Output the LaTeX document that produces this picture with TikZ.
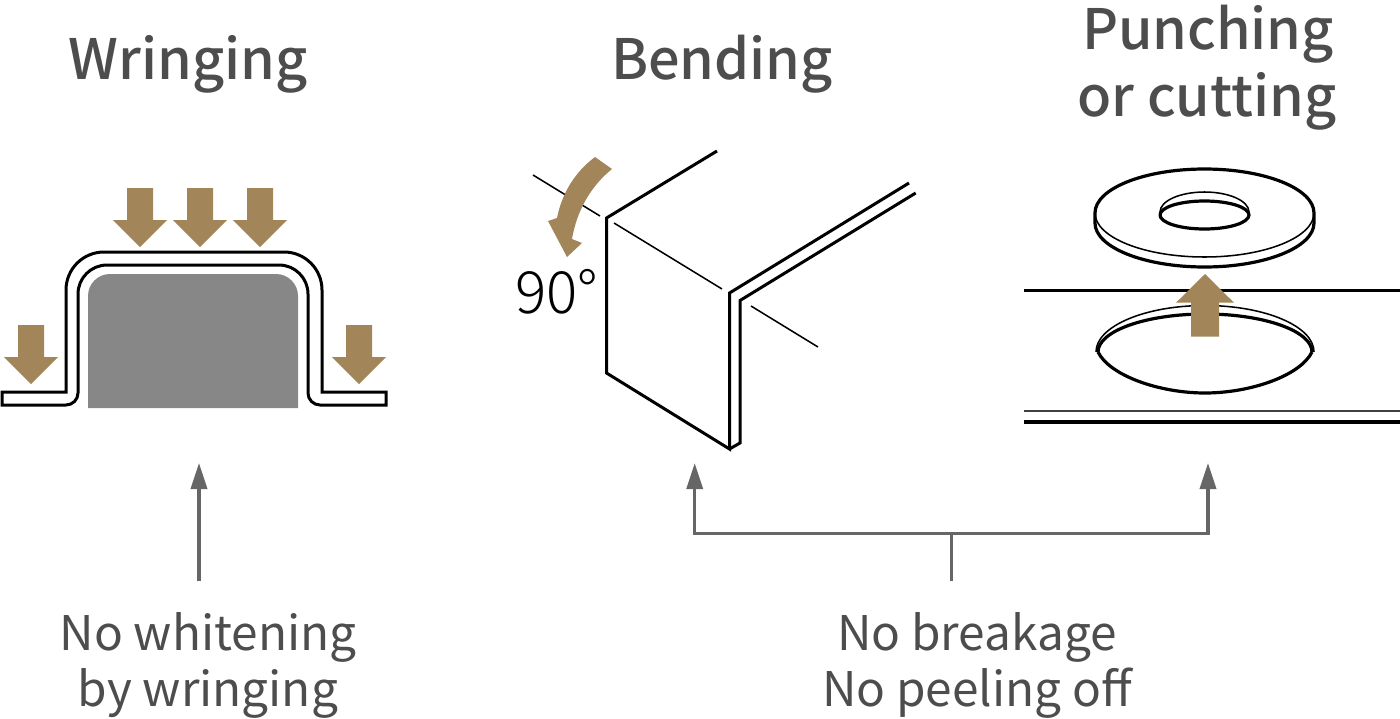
\documentclass[tikz,border=0pt]{standalone}
\usepackage{fontspec}
\setmainfont{Noto Sans CJK JP}
\newfontfamily\lightfont{Noto Sans CJK JP Light}
\newfontfamily\mediumfont{Noto Sans CJK JP Medium}
\usetikzlibrary{arrows.meta}
\definecolor{brownarrow}{HTML}{A28559}
\definecolor{txtgrey}{HTML}{4D4D4D}
\definecolor{conngrey}{HTML}{666666}
\definecolor{blockgrey}{HTML}{878787}
\tikzset{
 thick line/.style={draw=black,line width=2.25pt,line join=miter},
 heavy line/.style={draw=black,line width=2.4pt},
 thin line/.style={draw=black,line width=1.15pt},
 brown fill/.style={fill=brownarrow,draw=none},
 conn/.style={draw=conngrey,line width=2.6pt},
 connarrow/.style={conn,-{Triangle[length=19.5pt,width=12pt]}},
 title/.style={text=txtgrey,font=\mediumfont\fontsize{41.8}{46}\selectfont,anchor=base,inner sep=0pt},
 label/.style={text=txtgrey,font=\fontsize{35.8}{40}\selectfont,anchor=base,inner sep=0pt},
 pics/downarrow/.style={code={\fill[brown fill] (-13,0)--(13,0)--(13,32)--(27,32)--(0,59)--(-27,32)--(-13,32)--cycle;}},
}
\begin{document}
\begin{tikzpicture}[x=0.75pt,y=-0.75pt]
\useasboundingbox (0,0) rectangle (1400,718);
% titles
\node[title] (t1) at (188,79.5) {Wringing};
\node[title] (t2) at (722,79.5) {Bending};
\node[title] (t3) at (1208,49.5) {Punching};
\node[title] (t4) at (1207,116) {or cutting};
\node[label] (l1) at (208,650) {No whitening};
\node[label] (l2) at (208,706) {by wringing};
\node[label] (l3) at (977,650) {No breakage};
\node[label] (l4) at (977,706) {No peeling off};
% wringing
\fill[blockgrey] (88,408) -- (88,296) arc[start angle=180,end angle=270,radius=22] -- (276,274) arc[start angle=270,end angle=360,radius=22] -- (298,408) -- cycle;
\draw[thick line] (2,392) -- (66,392) -- (66,290) arc[start angle=180,end angle=270,radius=38] -- (284,252) arc[start angle=270,end angle=360,radius=38] -- (322,392) -- (386,392) -- (386,405) -- (320,405) arc[start angle=90,end angle=180,radius=12] -- (308,294) arc[start angle=360,end angle=270,radius=29] -- (107,265) arc[start angle=270,end angle=180,radius=29] -- (78,393) arc[start angle=0,end angle=90,radius=12] -- (2,405) -- cycle;
\foreach \p in {(140,188),(200,188),(260,188),(31,325),(359,325)} {\pic at \p {downarrow};}
% bending
\draw[thin line] (533,175) -- (600,216);
\draw[thin line] (614,223) -- (722,289);
\draw[thin line] (751,306) -- (818,347);
\draw[thick line] (717,151) -- (606.5,218) -- (606.5,373) -- (729.5,449) -- (729.5,293) -- (909,183);
\draw[thick line] (729.5,449) -- (740,443) -- (740,300.5) -- (915.7,193);
\fill[brown fill] (595,157) -- (612,169) .. controls (591,186) and (577,210) .. (572,239) -- (582,243) -- (567,257) -- (548,221) -- (557,218) .. controls (562,193) and (575,172) .. (595,157) -- cycle;
\node[font=\lightfont\fontsize{43.7}{47}\selectfont,anchor=base,inner sep=0pt,text=black] (n90) at (557,313) {90°};
% punching
\draw[thick line] (1024,290.7) -- (1400,290.7);
\draw[draw=black!75,line width=1.4pt] (1024,410.7) -- (1400,410.7);
\draw[heavy line] (1024,422) -- (1400,422);
% washer
\draw[heavy line] (1095,213) arc[start angle=180,end angle=360,x radius=109.5,y radius=44];
\draw[thin line] (1095,213) arc[start angle=180,end angle=0,x radius=109.5,y radius=44];
\draw[heavy line] (1095,213) -- (1095,223) arc[start angle=180,end angle=0,x radius=109.5,y radius=44] -- (1314,213);
\draw[thin line] (1160,212) arc[start angle=180,end angle=360,x radius=44.5,y radius=20];
\draw[heavy line] (1160,215) arc[start angle=180,end angle=540,x radius=44.5,y radius=14];
% hole
\draw[thin line] (1096,352) arc[start angle=180,end angle=360,x radius=109,y radius=46.5];
\draw[heavy line] (1098,352) arc[start angle=180,end angle=360,x radius=107,y radius=38];
\draw[heavy line] (1098,352) .. controls (1110,376) and (1160,393) .. (1205,393) .. controls (1250,393) and (1300,376) .. (1312,352);
\fill[brown fill] (1205,274) -- (1234,302.7) -- (1219,302.7) -- (1219,336.7) -- (1191,336.7) -- (1191,302.7) -- (1176,302.7) -- cycle;
% connectors
\coordinate (a1) at (199,580.5); \coordinate (a2) at (199,463);
\draw[connarrow] (a1) -- (a2);
\coordinate (b0) at (951.5,580.5); \coordinate (bm) at (951.5,533.3);
\coordinate (bl) at (694.7,533.3); \coordinate (br) at (1208,533.3);
\coordinate (blt) at (694.7,463); \coordinate (brt) at (1208,463);
\draw[conn] (b0) -- (bm);
\draw[connarrow] (bm) -- (bl) -- (blt);
\draw[connarrow] (bm) -- (br) -- (brt);
\end{tikzpicture}
\end{document}
